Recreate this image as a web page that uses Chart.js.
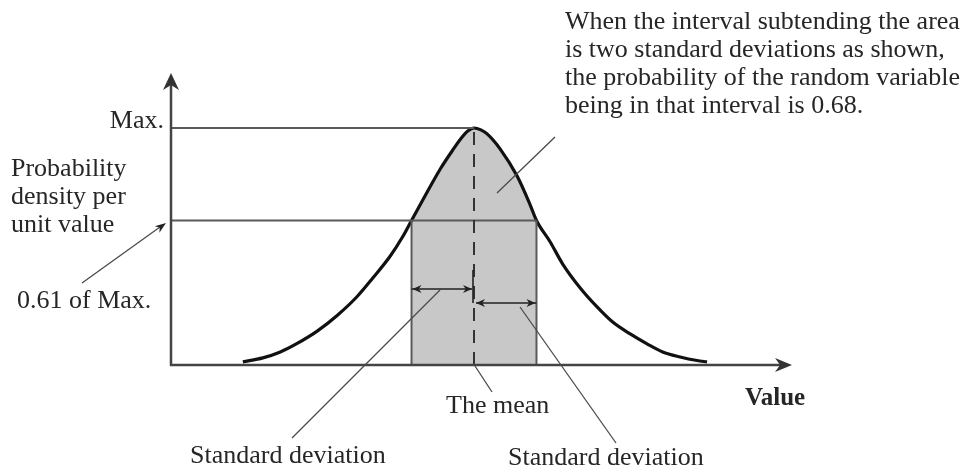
<!DOCTYPE html>
<html>
<head>
<meta charset="utf-8">
<script src="https://cdn.jsdelivr.net/npm/chart.js@4.4.0/dist/chart.umd.min.js"></script>
<style>
  html, body { margin: 0; padding: 0; background: #fff; }
  #wrap { position: relative; width: 977px; height: 473px; }
</style>
</head>
<body>
<div id="wrap"><canvas id="densityChart"></canvas></div>
<script>
// value, in standard deviations from the mean
const values = [-3.70, -3.38, -3.10, -2.83, -2.51, -2.19, -1.87, -1.62, -1.34, -1.14, -1.00,
  -0.82, -0.54, -0.34, -0.19, -0.10, 0, 0.11, 0.21, 0.42, 0.69, 0.90, 1.00,
  1.22, 1.42, 1.70, 1.97, 2.22, 2.50, 2.77, 3.02, 3.30, 3.57, 3.73];
// probability density, as a fraction of the maximum
const density = [0.013, 0.030, 0.055, 0.091, 0.143, 0.209, 0.289, 0.367, 0.460, 0.542, 0.61,
  0.696, 0.827, 0.907, 0.962, 0.987, 1, 0.992, 0.975, 0.911, 0.797, 0.675, 0.61,
  0.519, 0.426, 0.325, 0.245, 0.181, 0.131, 0.089, 0.055, 0.034, 0.019, 0.013];
const levels = [1, 0.61];
const levelLabels = ['Max.', '0.61 of Max.'];
const interval = [-1, 1];
const mean = 0;

const curve = values.map((v, i) => ({ x: v, y: density[i] }));
const shaded = curve.filter(p => p.x >= interval[0] && p.x <= interval[1]);

const ink = '#262626';
const serif = '"Liberation Serif", "Times New Roman", serif';

function arrowHead(ctx, x, y, angle, len, half) {
  ctx.save();
  ctx.translate(x, y);
  ctx.rotate(angle);
  ctx.beginPath();
  ctx.moveTo(0, 0);
  ctx.lineTo(-len, -half);
  ctx.lineTo(-len * 0.7, 0);
  ctx.lineTo(-len, half);
  ctx.closePath();
  ctx.fill();
  ctx.restore();
}

function line(ctx, x1, y1, x2, y2) {
  ctx.beginPath();
  ctx.moveTo(x1, y1);
  ctx.lineTo(x2, y2);
  ctx.stroke();
}

// pointer lines from the labels
const leaders = [
  [440, 290, 292, 438],
  [520, 307, 616, 443],
  [475, 366, 492, 392],
  [555, 137, 497, 193]
];

const noteLines = [
  'When the interval subtending the area',
  'is two standard deviations as shown,',
  'the probability of the random variable',
  'being in that interval is 0.68.'
];

const decorations = {
  id: 'decorations',
  afterDatasetsDraw(chart) {
    const { ctx, chartArea: a, scales: { x, y } } = chart;
    const x0 = a.left, y0 = y.getPixelForValue(0);
    const xm = x.getPixelForValue(mean);
    const xl = x.getPixelForValue(interval[0]);
    const xr = x.getPixelForValue(interval[1]);
    ctx.save();

    // level lines
    ctx.strokeStyle = '#5a5a5a';
    ctx.lineWidth = 2;
    const yMax = y.getPixelForValue(levels[0]);
    const yLow = y.getPixelForValue(levels[1]);
    line(ctx, x0, yMax, xm, yMax);
    line(ctx, x0, yLow, xr, yLow);

    // edges of the shaded interval
    line(ctx, xl, yLow, xl, y0);
    line(ctx, xr, yLow, xr, y0);

    // dashed mean line
    ctx.strokeStyle = '#333';
    ctx.setLineDash([13, 9]);
    line(ctx, xm, yMax + 4, xm, y0);
    ctx.setLineDash([]);

    // standard deviation arrows
    ctx.strokeStyle = '#222';
    ctx.fillStyle = '#222';
    ctx.lineWidth = 1.6;
    line(ctx, xm - 1, 270, xm - 1, 303);
    line(ctx, xl, 289, xm - 2, 289);
    arrowHead(ctx, xl + 1, 289, Math.PI, 9, 4);
    arrowHead(ctx, xm - 2, 289, 0, 9, 4);
    line(ctx, xm + 2, 303, xr, 303);
    arrowHead(ctx, xm + 2, 303, Math.PI, 9, 4);
    arrowHead(ctx, xr - 1, 303, 0, 9, 4);

    // axes
    ctx.strokeStyle = '#444';
    ctx.fillStyle = '#333';
    ctx.lineWidth = 2.5;
    line(ctx, x0, y0 + 1, x0, a.top + 8);
    line(ctx, x0 - 1, y0, a.right - 8, y0);
    arrowHead(ctx, x0, a.top, -Math.PI / 2, 17, 8);
    arrowHead(ctx, a.right, y0, 0, 17, 7);

    // pointer lines
    ctx.strokeStyle = '#4a4a4a';
    ctx.lineWidth = 1.3;
    leaders.forEach(s => line(ctx, s[0], s[1], s[2], s[3]));
    line(ctx, 82, 283, 160, 227);
    ctx.fillStyle = '#222';
    arrowHead(ctx, 166, 223, Math.atan2(223 - 283, 166 - 82), 11, 4);

    // text
    ctx.fillStyle = ink;
    ctx.font = '26px ' + serif;
    ctx.textAlign = 'right';
    ctx.fillText(levelLabels[0], 164, yMax);
    ctx.textAlign = 'left';
    ctx.fillText(levelLabels[1], 17, 308);
    ['Probability', 'density per', 'unit value'].forEach((t, i) => ctx.fillText(t, 11, 176 + i * 28));
    noteLines.forEach((t, i) => ctx.fillText(t, 565, 29 + i * 28));
    ctx.fillText('The mean', 446, 413);
    ctx.fillText('Standard deviation', 190, 463);
    ctx.fillText('Standard deviation', 508, 465);
    ctx.font = 'bold 25px ' + serif;
    ctx.fillText('Value', 745, 405);

    ctx.restore();
  }
};

new Chart(document.getElementById('densityChart'), {
  type: 'scatter',
  data: {
    datasets: [
      {
        data: curve,
        showLine: true,
        borderColor: '#111',
        borderWidth: 3.2,
        borderCapStyle: 'butt',
        pointRadius: 0,
        cubicInterpolationMode: 'monotone',
        fill: false,
        clip: false
      },
      {
        data: shaded,
        showLine: true,
        borderWidth: 0,
        borderColor: 'rgba(0,0,0,0)',
        backgroundColor: '#c8c8c8',
        pointRadius: 0,
        cubicInterpolationMode: 'monotone',
        fill: 'origin'
      }
    ]
  },
  options: {
    responsive: true,
    maintainAspectRatio: false,
    animation: false,
    layout: { padding: { left: 171, right: 185, top: 73, bottom: 108 } },
    scales: {
      x: { type: 'linear', min: -4.85, max: 5.09, display: false },
      y: { min: 0, max: 1.232, display: false }
    },
    plugins: {
      legend: { display: false },
      tooltip: { enabled: false }
    }
  },
  plugins: [decorations]
});
</script>
</body>
</html>
